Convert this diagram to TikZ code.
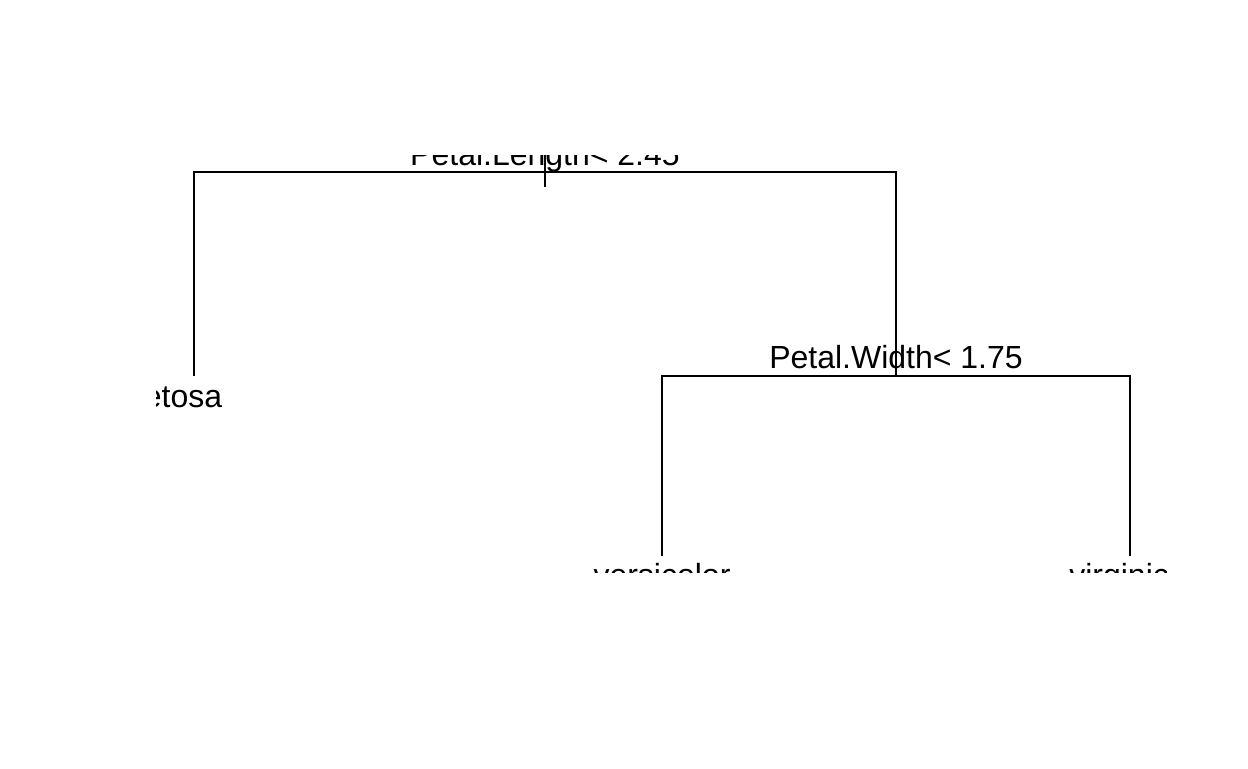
\documentclass[tikz,border=0pt]{standalone}
\usepackage{fontspec}
\setmainfont{Liberation Sans}
\usepackage{tikz}
\usetikzlibrary{calc}
\tikzset{
  lbl/.style={anchor=base,inner sep=0pt,font=\fontsize{16}{19}\selectfont},
  branch/.style={draw=black,line width=1pt},
}

\begin{document}
\begin{tikzpicture}[x=0.5pt,y=-0.5pt]
  \useasboundingbox (0,0) rectangle (1248,768);
  \begin{scope}
  \clip (156,155) rectangle (1166,572);
  % split points and leaves
  \coordinate (root) at (545,172);
  \coordinate (lf1) at (194,376);
  \coordinate (nd2) at (896,376);
  \coordinate (lf2) at (662,556);
  \coordinate (lf3) at (1130,556);
  \draw[branch] (lf1) |- (root) -| (nd2);
  \draw[branch] (lf2) |- (nd2) -| (lf3);
  \draw[branch] ($(root)+(0,-22)$) -- ($(root)+(0,15)$);
  % labels
  \node[lbl] (sp1) at (545,165) {Petal.Length< 2.45};
  \node[lbl] (sp2) at (896,368) {Petal.Width< 1.75};
  \node[lbl] (setosa) at (175,407) {setosa};
  \node[lbl] (versicolor) at (662,586) {versicolor};
  \node[lbl] (virginica) at (1128,586) {virginica};
  \end{scope}
\end{tikzpicture}
\end{document}
